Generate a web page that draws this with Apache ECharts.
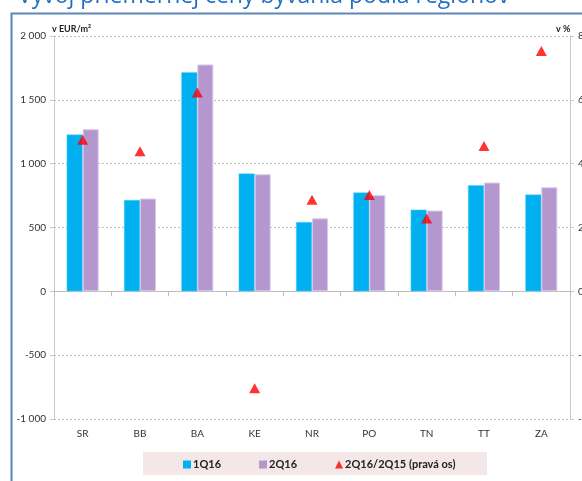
<!DOCTYPE html>
<html>
<head>
<meta charset="utf-8">
<script src="https://cdn.jsdelivr.net/npm/echarts@6/dist/echarts.min.js"></script>
<style>
  html, body { margin: 0; padding: 0; background: #fff; }
  #chart { width: 582px; height: 481px; }
</style>
</head>
<body>
<div id="chart"></div>
<script>
// Regions and quarterly average housing prices (EUR/m²), plus year-on-year change (%)
const regions = ['SR', 'BB', 'BA', 'KE', 'NR', 'PO', 'TN', 'TT', 'ZA'];
const price1Q16 = [1228, 716, 1717, 923, 543, 774, 640, 831, 758];
const price2Q16 = [1270, 727, 1777, 917, 572, 753, 633, 852, 815];
const change2Q16vs2Q15 = [4.75, 4.39, 6.23, -3.04, 2.87, 3.02, 2.28, 4.55, 7.53];

const titleText = 'Vývoj priemernej ceny bývania podľa regiónov';
const seriesNames = ['1Q16', '2Q16', '2Q16/2Q15 (pravá os)'];

const fmtThousands = v => {
  const s = Math.abs(v).toString().replace(/\B(?=(\d{3})+(?!\d))/g, ' ');
  return (v < 0 ? '-' : '') + s;
};

const axisFont = 'Lato, Liberation Sans, sans-serif';

const chart = echarts.init(document.getElementById('chart'), null, { renderer: 'canvas' });
chart.setOption({
  animation: false,
  backgroundColor: '#ffffff',
  title: {
    text: titleText,
    left: 13,
    top: -20,
    textStyle: { color: '#1F6FC5', fontSize: 23, fontWeight: 'normal', fontFamily: 'Open Sans, sans-serif' }
  },
  graphic: [
    {
      type: 'rect', left: 9, top: 11, z: -1,
      shape: { width: 620, height: 520 },
      style: { fill: 'none', stroke: '#5A85BF', lineWidth: 2 }
    },
    {
      type: 'rect', left: 143, top: 452, z: -1,
      shape: { width: 344, height: 23 },
      style: { fill: '#F4E7E7' }
    },
    {
      type: 'text', left: 52, top: 25,
      style: { text: 'v EUR/m²', fill: '#222', font: 'bold 9px ' + axisFont }
    },
    {
      type: 'text', left: 556, top: 25,
      style: { text: 'v %', fill: '#222', font: 'bold 9px ' + axisFont }
    }
  ],
  legend: {
    left: 178,
    top: 454,
    itemWidth: 8,
    itemHeight: 8,
    itemGap: 38,
    itemStyle: { borderWidth: 0 },
    textStyle: { color: '#222', fontSize: 11, fontWeight: 'bold', fontFamily: 'Lato, sans-serif', padding: [0, 0, 0, -3] },
    data: [
      { name: seriesNames[0], icon: 'rect' },
      { name: seriesNames[1], icon: 'rect' },
      { name: seriesNames[2], icon: 'triangle' }
    ]
  },
  grid: { left: 54, right: 12, top: 36, bottom: 62, outerBoundsMode: 'none', containLabel: false },
  xAxis: [
    {
      type: 'category',
      data: regions,
      axisLine: { onZero: false, show: false },
      axisTick: { show: false },
      axisLabel: { color: '#333', fontSize: 10, fontFamily: axisFont, margin: 10 }
    },
    {
      // zero line with boundary ticks between regions
      type: 'category',
      data: regions,
      position: 'bottom',
      axisLine: { show: true, onZero: true, onZeroAxisIndex: 0, lineStyle: { color: '#BDBDBD', width: 1 } },
      axisTick: { show: true, length: 5, lineStyle: { color: '#BDBDBD' } },
      axisLabel: { show: false },
      splitLine: { show: false }
    }
  ],
  yAxis: [
    {
      type: 'value', min: -1000, max: 2000, interval: 500,
      axisLine: { show: true, lineStyle: { color: '#C8C8C8', width: 1 } },
      axisTick: { show: true, length: 4, lineStyle: { color: '#C8C8C8' } },
      axisLabel: { color: '#333', fontSize: 10, fontFamily: axisFont, formatter: fmtThousands, margin: 8 },
      splitLine: { lineStyle: { color: '#BDBDBD', type: [2, 2], width: 1 } }
    },
    {
      type: 'value', min: -4, max: 8, interval: 2,
      axisLine: { show: true, lineStyle: { color: '#C8C8C8', width: 1 } },
      axisTick: { show: true, length: 4, lineStyle: { color: '#C8C8C8' } },
      axisLabel: { color: '#333', fontSize: 10, fontFamily: axisFont, margin: 8 },
      splitLine: { show: false }
    }
  ],
  series: [
    {
      name: seriesNames[0], type: 'bar', data: price1Q16,
      barWidth: 16, barGap: '0%',
      itemStyle: { color: '#00B0F0', borderColor: '#5FD0F6', borderWidth: 0.5 }
    },
    {
      name: seriesNames[1], type: 'bar', data: price2Q16,
      barWidth: 16, barGap: '0%',
      itemStyle: { color: '#B497CF', borderColor: '#D9C8EA', borderWidth: 1 }
    },
    {
      name: seriesNames[2], type: 'scatter', yAxisIndex: 1, data: change2Q16vs2Q15,
      symbol: 'triangle', symbolSize: [11, 10], z: 5,
      itemStyle: { color: '#FF0000' }
    }
  ]
});
</script>
</body>
</html>
